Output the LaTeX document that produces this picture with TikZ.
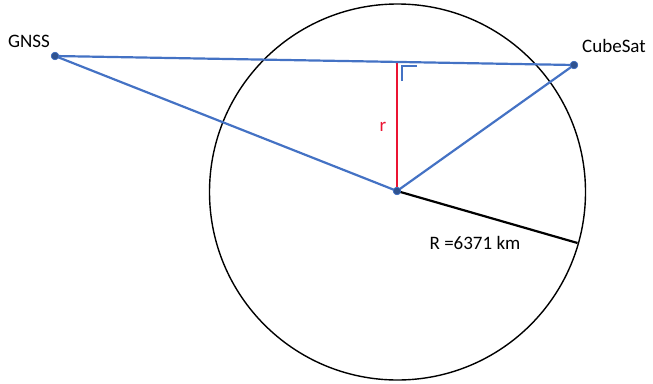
\documentclass[tikz,border=0pt]{standalone}
\usepackage{fontspec}
\setmainfont{Carlito}
\definecolor{obl}{RGB}{68,114,196}
\definecolor{dotc}{RGB}{47,82,143}
\definecolor{rred}{RGB}{235,20,50}
\begin{document}
\begin{tikzpicture}[x=1pt,y=-1pt,
  bl/.style={draw=obl,line width=2.2pt},
  pt/.style={circle,fill=dotc,draw=obl,line width=0.6pt,inner sep=0pt,minimum size=7.5pt},
  lbl/.style={font=\fontsize{19}{22}\selectfont,inner sep=0pt}]
\useasboundingbox (0,0) rectangle (653,383);
\node[draw=black,line width=1.4pt,circle,minimum size=376pt,inner sep=0pt] (earth) at (397.5,192) {};
\coordinate (foot) at (397,62);
\coordinate (Rend) at (577.5,243);
\node[pt] (gnss) at (55,56) {};
\node[pt] (cube) at (574,65) {};
\node[pt] (ctr) at (397,191) {};
\draw[rred,line width=2.2pt] (ctr.center) -- (foot);
\draw[black,line width=2.2pt] (ctr.center) -- (Rend);
\draw[bl] (gnss.center) -- (cube.center);
\draw[bl] (gnss.center) -- (ctr.center);
\draw[bl] (ctr.center) -- (cube.center);
\draw[draw=obl,line width=1.4pt] (402,81) -- (402,66) -- (417,66);
\node[pt] at (gnss) {};
\node[pt] at (cube) {};
\node[pt] at (ctr) {};
\node[lbl] (gl) at (29,41) {GNSS};
\node[lbl] (cl) at (614,46) {CubeSat};
\node[lbl,text=rred] (rl) at (383,127) {r};
\node[lbl] (Rl) at (475,243) {R =6371 km};
\end{tikzpicture}
\end{document}
